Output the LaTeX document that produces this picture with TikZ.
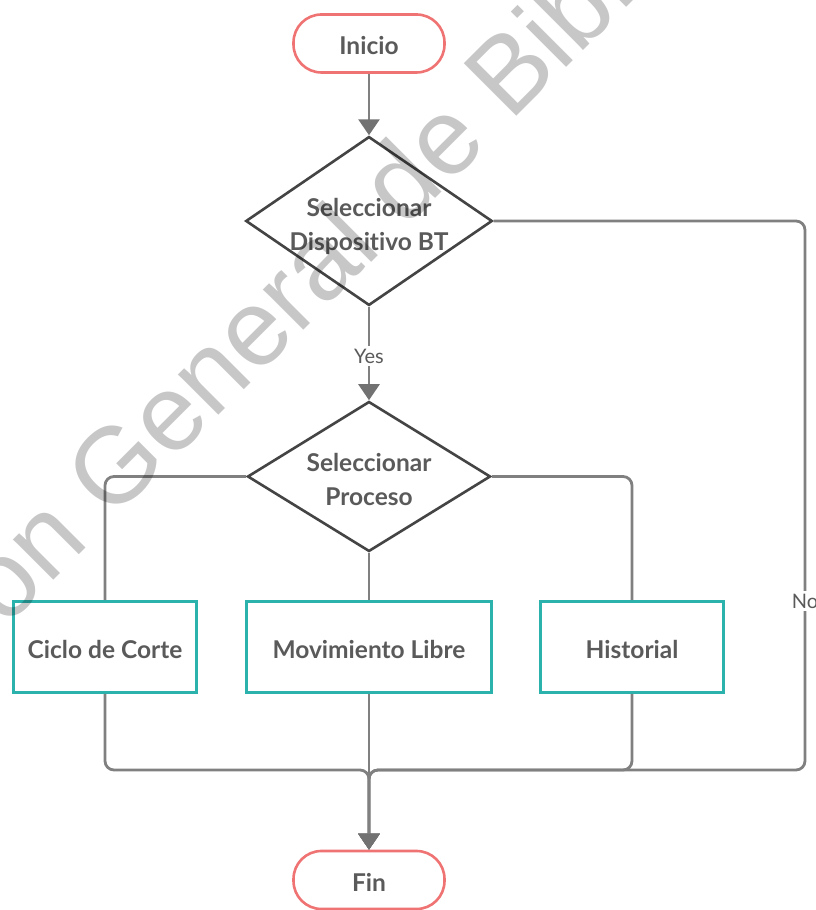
\documentclass[tikz,border=0pt]{standalone}
\usepackage{fontspec}
\setmainfont{Lato}[Ligatures={NoCommon}]
\newfontfamily\wmfont{Liberation Sans}
\usetikzlibrary{shapes.geometric,arrows.meta}
\definecolor{termred}{HTML}{F07373}
\definecolor{procteal}{HTML}{2BB2AD}
\definecolor{decgray}{HTML}{444444}
\definecolor{linkgray}{HTML}{808080}
\definecolor{tipgray}{HTML}{727272}
\definecolor{txtgray}{HTML}{5A5A5A}
\begin{document}
\begin{tikzpicture}[x=1pt,y=1pt,
  labelfont/.style={font=\fontsize{24.5}{34}\selectfont\bfseries, text=txtgray},
  terminal/.style={labelfont, draw=termred, line width=2.6pt, rounded corners=28pt,
    minimum width=151pt, minimum height=58pt, fill=white, text height=22pt, text depth=0pt},
  decision/.style={labelfont, diamond, draw=decgray, line width=2.6pt, inner sep=0pt,
    align=center, fill=white, text depth=0pt},
  process/.style={labelfont, draw=procteal, line width=2.6pt,
    minimum height=91pt, fill=white, text height=23.6pt, text depth=0pt},
  link/.style={draw=linkgray, line width=2.8pt, rounded corners=9pt},
  tip/.style={-{Triangle[width=21pt,length=16pt,fill=tipgray,color=tipgray]}},
  branchlabel/.style={font=\fontsize{20}{24}\selectfont, text=txtgray, fill=white, inner sep=3pt}
]
\useasboundingbox (0,0) rectangle (816,910);
\fill[white] (0,0) rectangle (816,910);

% flowchart nodes
\node[terminal] (start) at (369,866.5) {Inicio};
\node[decision, aspect=1.46, minimum width=243pt, minimum height=165pt, text height=60pt]
  (d1) at (369,689) {Seleccionar\\Dispositivo BT};
\node[decision, aspect=1.6, minimum width=243pt, minimum height=150pt, text height=58.6pt]
  (d2) at (369,433.5) {Seleccionar\\Proceso};
\node[process, minimum width=183pt] (c1) at (105,263) {Ciclo de Corte};
\node[process, minimum width=245pt] (c2) at (369,263) {Movimiento Libre};
\node[process, minimum width=183pt] (c3) at (632,263) {Historial};
\node[terminal, text height=23.6pt] (fin) at (369,30) {Fin};

% junction points
\coordinate (bus) at (369,140);
\coordinate (busR) at (805,140);

% connectors
\draw[link,tip] (start) -- (d1.north);
\node[branchlabel] (yes) at (369,554) {Yes};
\draw[link] (d1.south) -- (yes.north);
\draw[link,tip] (yes.south) -- (d2.north);

\draw[link] (d2.west) -| (c1.north);
\draw[link] (d2.east) -| (c3.north);
\draw[link] (d2.south) -- (c2.north);

\draw[link,tip] (d1.east) -| (busR) -- (bus) -- (fin.north);
\draw[link,tip] (c1.south) |- (bus) -- (fin.north);
\draw[link,tip] (c3.south) |- (bus) -- (fin.north);
\draw[link,tip] (c2.south) -- (fin.north);
\node[branchlabel] (no) at (805,309) {No};

% watermark
\begin{scope}
  \clip (0,0) rectangle (816,910);
  \node[rotate=45, anchor=base west, inner sep=0pt, text=black, opacity=0.22,
    font=\wmfont\fontsize{108}{112}\selectfont] (wm) at (111.7,388)
    {\llap{Dirección }General de Bibliotecas};
\end{scope}
\end{tikzpicture}
\end{document}
